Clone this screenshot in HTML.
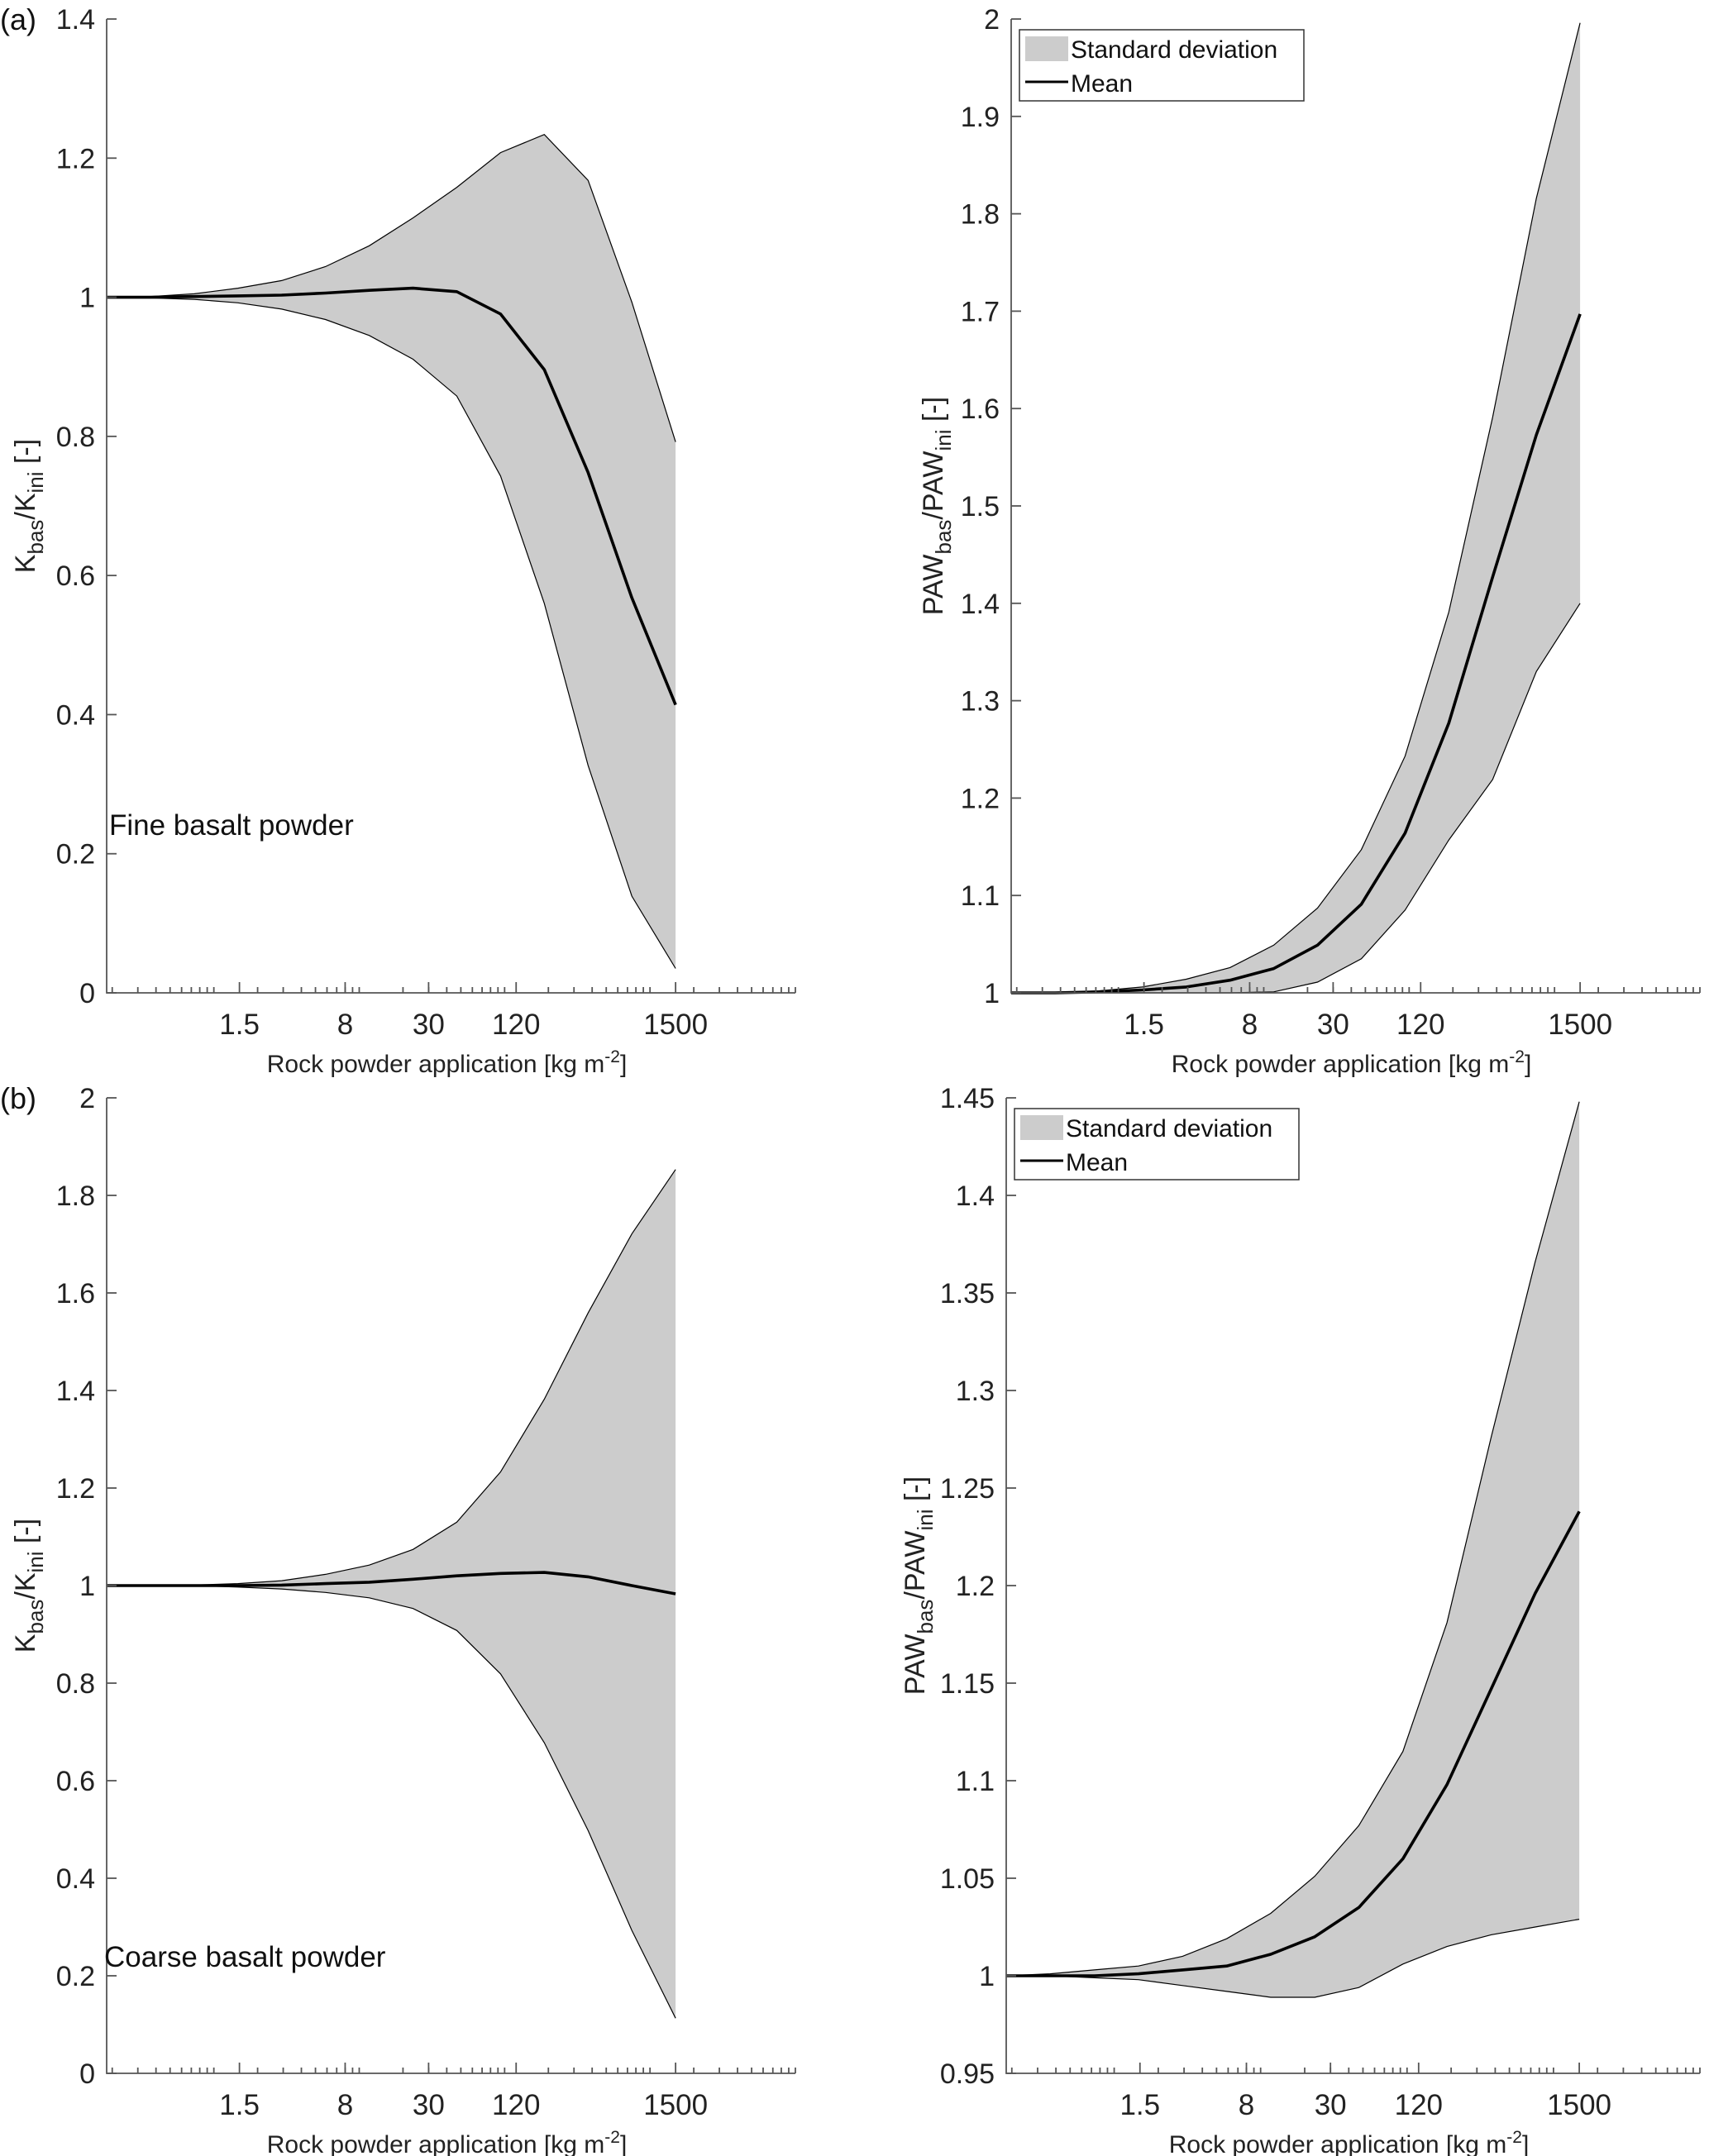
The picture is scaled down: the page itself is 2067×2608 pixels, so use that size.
<!DOCTYPE html>
<html><head><meta charset="utf-8"><style>
html,body{margin:0;padding:0;background:#fff;}
svg{display:block;font-family:"Liberation Sans",Arial,sans-serif;}
</style></head><body>
<svg id="fig" width="2067" height="2608" viewBox="0 0 2067 2608" xmlns="http://www.w3.org/2000/svg"></svg>
<script>
// ---- data ----
const xTickValues = [1.5, 8, 30, 120, 1500];
const xTickLabels = ["1.5", "8", "30", "120", "1500"];
const nPoints = 14;
const xValues = Array.from({length: nPoints}, (_, k) => 1500 / Math.pow(2, nPoints - 1 - k));

const fineKUpper = [1, 1.001, 1.005, 1.013, 1.024, 1.044, 1.074, 1.114, 1.158, 1.208, 1.234, 1.168, 0.993, 0.792];
const fineKMean  = [1, 1, 1.001, 1.002, 1.003, 1.006, 1.01, 1.013, 1.008, 0.976, 0.896, 0.748, 0.568, 0.414];
const fineKLower = [1, 0.999, 0.997, 0.992, 0.983, 0.968, 0.945, 0.911, 0.858, 0.743, 0.56, 0.327, 0.139, 0.035];

const finePUpper = [1, 1, 1.002, 1.006, 1.014, 1.026, 1.049, 1.087, 1.147, 1.243, 1.391, 1.591, 1.816, 1.996];
const finePMean  = [1, 1, 1.001, 1.003, 1.006, 1.013, 1.025, 1.049, 1.091, 1.164, 1.277, 1.427, 1.573, 1.697];
const finePLower = [1, 1, 1, 1, 1, 1, 1.001, 1.011, 1.035, 1.085, 1.157, 1.219, 1.33, 1.4];

const coarseKUpper = [1, 1, 1.001, 1.004, 1.01, 1.023, 1.042, 1.074, 1.13, 1.233, 1.382, 1.559, 1.721, 1.853];
const coarseKMean  = [1, 1, 1, 1, 1.001, 1.004, 1.007, 1.013, 1.02, 1.025, 1.027, 1.018, 1.0, 0.983];
const coarseKLower = [1, 1, 1, 0.997, 0.993, 0.986, 0.975, 0.953, 0.908, 0.819, 0.678, 0.498, 0.293, 0.113];

const coarsePUpper = [1, 1.001, 1.003, 1.005, 1.01, 1.019, 1.032, 1.051, 1.077, 1.115, 1.181, 1.276, 1.366, 1.448];
const coarsePMean  = [1, 1, 1, 1.001, 1.003, 1.005, 1.011, 1.02, 1.035, 1.06, 1.098, 1.147, 1.196, 1.238];
const coarsePLower = [1, 1, 0.999, 0.998, 0.995, 0.992, 0.989, 0.989, 0.994, 1.006, 1.015, 1.021, 1.025, 1.029];

const yTicksAK = [0, 0.2, 0.4, 0.6, 0.8, 1, 1.2, 1.4];
const yTicksAP = [1, 1.1, 1.2, 1.3, 1.4, 1.5, 1.6, 1.7, 1.8, 1.9, 2];
const yTicksBK = [0, 0.2, 0.4, 0.6, 0.8, 1, 1.2, 1.4, 1.6, 1.8, 2];
const yTicksBP = [0.95, 1, 1.05, 1.1, 1.15, 1.2, 1.25, 1.3, 1.35, 1.4, 1.45];

// ---- drawing ----
const NS = "http://www.w3.org/2000/svg";
const svg = document.getElementById("fig");
const XMIN = 1500 / Math.pow(2, 13), XMAX = 10000;
function mk(tag, attrs, parent) {
  const e = document.createElementNS(NS, tag);
  for (const k in attrs) e.setAttribute(k, attrs[k]);
  (parent || svg).appendChild(e);
  return e;
}
function fmt(v) { return String(+v.toFixed(2)); }

function panel(cfg) {
  const g = mk("g", {});
  
  
  const L = cfg.left, R = cfg.right, T = cfg.top, B = cfg.bottom;
  const lx0 = Math.log10(XMIN), lx1 = Math.log10(XMAX);
  const xs = v => L + (Math.log10(v) - lx0) / (lx1 - lx0) * (R - L);
  const ys = v => B - (v - cfg.ymin) / (cfg.ymax - cfg.ymin) * (B - T);

  let d = "";
  xValues.forEach((x, i) => { d += (i ? "L" : "M") + xs(x).toFixed(1) + "," + ys(cfg.upper[i]).toFixed(1); });
  for (let i = xValues.length - 1; i >= 0; i--) d += "L" + xs(xValues[i]).toFixed(1) + "," + ys(cfg.lower[i]).toFixed(1);
  d += "Z";
  const band = mk("path", {d: d, fill: "#cccccc", stroke: "none"}, g);
  
  
  const up = mk("polyline", {points: xValues.map((x, i) => xs(x).toFixed(1) + "," + ys(cfg.upper[i]).toFixed(1)).join(" "), fill: "none", stroke: "#000", "stroke-width": 1.2}, g);
  
  
  const lo = mk("polyline", {points: xValues.map((x, i) => xs(x).toFixed(1) + "," + ys(cfg.lower[i]).toFixed(1)).join(" "), fill: "none", stroke: "#000", "stroke-width": 1.2}, g);
  
  
  const mean = mk("polyline", {points: xValues.map((x, i) => xs(x).toFixed(1) + "," + ys(cfg.mean[i]).toFixed(1)).join(" "), fill: "none", stroke: "#000", "stroke-width": 3.6, "stroke-linejoin": "round"}, g);
  
  

  const ax = mk("path", {d: `M${L},${T}L${L},${B}L${R},${B}`, fill: "none", stroke: "#555", "stroke-width": 1.8}, g);
  
  
  cfg.yticks.forEach(v => {
    const y = ys(v);
    const t = mk("line", {x1: L, x2: L + 12, y1: y, y2: y, stroke: "#555", "stroke-width": 1.8}, g);
    
    
    const lb = mk("text", {x: L - 14, y: y + 12, "text-anchor": "end", "font-size": 34, fill: "#222"}, g);
    lb.textContent = fmt(v);
    
    
  });
  for (let e = -1; e <= 4; e++) for (let m = 1; m <= 9; m++) {
    const v = m * Math.pow(10, e);
    if (v < XMIN * 1.001 || v > XMAX * 1.001) continue;
    const x = xs(v);
    const t = mk("line", {x1: x, x2: x, y1: B, y2: B - 7, stroke: "#555", "stroke-width": 1.8}, g);
    
    
  }
  xTickValues.forEach((v, i) => {
    const x = xs(v);
    const t = mk("line", {x1: x, x2: x, y1: B, y2: B - 13, stroke: "#555", "stroke-width": 1.8}, g);
    
    
    const lb = mk("text", {x: x, y: B + 50, "text-anchor": "middle", "font-size": 35, fill: "#222"}, g);
    lb.textContent = xTickLabels[i];
    
    
  });
  const xl = mk("text", {x: (L + R) / 2 - 5, y: B + 96, "text-anchor": "middle", "font-size": 30, fill: "#222"}, g);
  xl.innerHTML = 'Rock powder application [kg m<tspan dy="-12" font-size="21">-2</tspan><tspan dy="12">]</tspan>';
  
  
  const yl = mk("text", {x: 0, y: 0, "text-anchor": "middle", "font-size": 34, fill: "#222", transform: `translate(${cfg.ylx},${(T + B) / 2}) rotate(-90)`}, g);
  yl.innerHTML = cfg.ylabel;
  
  

  if (cfg.legend) {
    const lg = mk("g", {}, g);
    
    
    const lx = L + 10, ly = T + 13;
    mk("rect", {x: lx, y: ly, width: 344, height: 86, fill: "#fff", stroke: "#333", "stroke-width": 1.5}, lg);
    const sw = mk("rect", {x: lx + 7, y: ly + 8, width: 52, height: 30, fill: "#cccccc"}, lg);
    
    
    const t1 = mk("text", {x: lx + 62, y: ly + 34, "font-size": 30, fill: "#111"}, lg);
    t1.textContent = "Standard deviation";
    
    
    const ln = mk("line", {x1: lx + 7, x2: lx + 59, y1: ly + 63, y2: ly + 63, stroke: "#000", "stroke-width": 3}, lg);
    
    
    const t2 = mk("text", {x: lx + 62, y: ly + 75, "font-size": 30, fill: "#111"}, lg);
    t2.textContent = "Mean";
    
    
  }
  if (cfg.note) {
    const n = mk("text", {x: cfg.note[1], y: cfg.note[2], "font-size": 35, fill: "#111"}, g);
    n.textContent = cfg.note[0];
    
    
  }
}

const kLabel = 'K<tspan dy="10" font-size="26">bas</tspan><tspan dy="-10">/K</tspan><tspan dy="10" font-size="26">ini</tspan><tspan dy="-10"> [-]</tspan>';
const pLabel = 'PAW<tspan dy="10" font-size="26">bas</tspan><tspan dy="-10">/PAW</tspan><tspan dy="10" font-size="26">ini</tspan><tspan dy="-10"> [-]</tspan>';

panel({name: "panel-a-k", left: 129, right: 962, top: 23, bottom: 1201, ymin: 0, ymax: 1.4, yticks: yTicksAK,
  upper: fineKUpper, mean: fineKMean, lower: fineKLower, ylabel: kLabel, ylx: 42, note: ["Fine basalt powder", 132, 1010]});
panel({name: "panel-a-paw", left: 1223, right: 2056, top: 23, bottom: 1201, ymin: 1, ymax: 2, yticks: yTicksAP,
  upper: finePUpper, mean: finePMean, lower: finePLower, ylabel: pLabel, ylx: 1140, legend: true});
panel({name: "panel-b-k", left: 129, right: 962, top: 1328, bottom: 2508, ymin: 0, ymax: 2, yticks: yTicksBK,
  upper: coarseKUpper, mean: coarseKMean, lower: coarseKLower, ylabel: kLabel, ylx: 42, note: ["Coarse basalt powder", 126, 2379]});
panel({name: "panel-b-paw", left: 1217, right: 2056, top: 1328, bottom: 2508, ymin: 0.95, ymax: 1.45, yticks: yTicksBP,
  upper: coarsePUpper, mean: coarsePMean, lower: coarsePLower, ylabel: pLabel, ylx: 1118, legend: true});

const pa = mk("text", {x: 0, y: 36, "font-size": 36, fill: "#111"});
pa.textContent = "(a)";


const pb = mk("text", {x: 0, y: 1341, "font-size": 36, fill: "#111"});
pb.textContent = "(b)";


</script>
</body></html>
